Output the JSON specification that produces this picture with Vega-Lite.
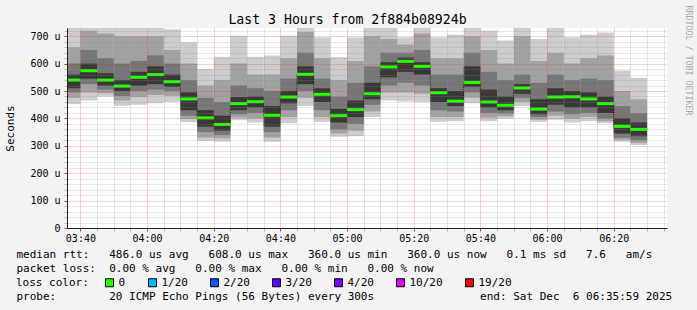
{
  "$schema": "https://vega.github.io/schema/vega-lite/v6.json",
  "width": 600,
  "height": 200,
  "autosize": {"type": "none"},
  "padding": {"left": 67, "top": 28, "right": 30, "bottom": 82},
  "background": "#f3f3f3",
  "view": {"fill": "#ffffff", "stroke": null},
  "title": {"text": "Last 3 Hours from 2f884b08924b", "font": "DejaVu Sans Mono", "fontSize": 13.2, "fontWeight": "normal", "color": "#000000", "anchor": "middle", "frame": "group", "dx": -19.5, "dy": 36, "baseline": "alphabetic", "offset": 4},
  "data": {"values": [
    {"start": 215, "end": 220, "mid": 217.5, "min": 453, "lo2": 475, "lo3": 495, "lo4": 510, "median": 540, "hi4": 560, "hi3": 600, "hi2": 660, "max": 760, "loss": "0"},
    {"start": 220, "end": 225, "mid": 222.5, "min": 465, "lo2": 495, "lo3": 525, "lo4": 545, "median": 574, "hi4": 600, "hi3": 650, "hi2": 720, "max": 760, "loss": "0"},
    {"start": 225, "end": 230, "mid": 227.5, "min": 480, "lo2": 492, "lo3": 505, "lo4": 520, "median": 540, "hi4": 565, "hi3": 620, "hi2": 710, "max": 740, "loss": "0"},
    {"start": 230, "end": 235, "mid": 232.5, "min": 446, "lo2": 465, "lo3": 482, "lo4": 500, "median": 518, "hi4": 540, "hi3": 600, "hi2": 700, "max": 740, "loss": "0"},
    {"start": 235, "end": 240, "mid": 237.5, "min": 450, "lo2": 478, "lo3": 500, "lo4": 520, "median": 550, "hi4": 570, "hi3": 610, "hi2": 700, "max": 740, "loss": "0"},
    {"start": 240, "end": 245, "mid": 242.5, "min": 455, "lo2": 485, "lo3": 505, "lo4": 525, "median": 560, "hi4": 590, "hi3": 630, "hi2": 700, "max": 735, "loss": "0"},
    {"start": 245, "end": 250, "mid": 247.5, "min": 460, "lo2": 482, "lo3": 500, "lo4": 515, "median": 534, "hi4": 560, "hi3": 600, "hi2": 650, "max": 725, "loss": "0"},
    {"start": 250, "end": 255, "mid": 252.5, "min": 386, "lo2": 398, "lo3": 410, "lo4": 430, "median": 471, "hi4": 495, "hi3": 540, "hi2": 600, "max": 678, "loss": "0"},
    {"start": 255, "end": 260, "mid": 257.5, "min": 318, "lo2": 330, "lo3": 350, "lo4": 370, "median": 402, "hi4": 430, "hi3": 475, "hi2": 520, "max": 580, "loss": "0"},
    {"start": 260, "end": 265, "mid": 262.5, "min": 316, "lo2": 328, "lo3": 340, "lo4": 355, "median": 378, "hi4": 410, "hi3": 460, "hi2": 540, "max": 625, "loss": "0"},
    {"start": 265, "end": 270, "mid": 267.5, "min": 393, "lo2": 403, "lo3": 415, "lo4": 430, "median": 454, "hi4": 478, "hi3": 520, "hi2": 600, "max": 702, "loss": "0"},
    {"start": 270, "end": 275, "mid": 272.5, "min": 385, "lo2": 400, "lo3": 420, "lo4": 440, "median": 461, "hi4": 480, "hi3": 510, "hi2": 560, "max": 625, "loss": "0"},
    {"start": 275, "end": 280, "mid": 277.5, "min": 315, "lo2": 330, "lo3": 350, "lo4": 370, "median": 411, "hi4": 445, "hi3": 500, "hi2": 560, "max": 630, "loss": "0"},
    {"start": 280, "end": 285, "mid": 282.5, "min": 382, "lo2": 405, "lo3": 430, "lo4": 455, "median": 478, "hi4": 500, "hi3": 545, "hi2": 620, "max": 702, "loss": "0"},
    {"start": 285, "end": 290, "mid": 287.5, "min": 445, "lo2": 475, "lo3": 500, "lo4": 525, "median": 561, "hi4": 590, "hi3": 640, "hi2": 715, "max": 740, "loss": "0"},
    {"start": 290, "end": 295, "mid": 292.5, "min": 388, "lo2": 405, "lo3": 430, "lo4": 460, "median": 488, "hi4": 510, "hi3": 545, "hi2": 620, "max": 696, "loss": "0"},
    {"start": 295, "end": 300, "mid": 297.5, "min": 333, "lo2": 345, "lo3": 360, "lo4": 385, "median": 410, "hi4": 435, "hi3": 480, "hi2": 540, "max": 623, "loss": "0"},
    {"start": 300, "end": 305, "mid": 302.5, "min": 335, "lo2": 355, "lo3": 380, "lo4": 405, "median": 432, "hi4": 465, "hi3": 530, "hi2": 610, "max": 695, "loss": "0"},
    {"start": 305, "end": 310, "mid": 307.5, "min": 405, "lo2": 425, "lo3": 450, "lo4": 470, "median": 490, "hi4": 530, "hi3": 590, "hi2": 700, "max": 740, "loss": "0"},
    {"start": 310, "end": 315, "mid": 312.5, "min": 465, "lo2": 495, "lo3": 520, "lo4": 550, "median": 588, "hi4": 605, "hi3": 640, "hi2": 690, "max": 735, "loss": "0"},
    {"start": 315, "end": 320, "mid": 317.5, "min": 462, "lo2": 495, "lo3": 530, "lo4": 570, "median": 608, "hi4": 622, "hi3": 640, "hi2": 670, "max": 696, "loss": "0"},
    {"start": 320, "end": 325, "mid": 322.5, "min": 460, "lo2": 490, "lo3": 520, "lo4": 560, "median": 590, "hi4": 605, "hi3": 650, "hi2": 710, "max": 735, "loss": "0"},
    {"start": 325, "end": 330, "mid": 327.5, "min": 388, "lo2": 405, "lo3": 430, "lo4": 460, "median": 494, "hi4": 510, "hi3": 560, "hi2": 620, "max": 696, "loss": "0"},
    {"start": 330, "end": 335, "mid": 332.5, "min": 390, "lo2": 405, "lo3": 425, "lo4": 445, "median": 463, "hi4": 500, "hi3": 560, "hi2": 620, "max": 705, "loss": "0"},
    {"start": 335, "end": 340, "mid": 337.5, "min": 455, "lo2": 475, "lo3": 495, "lo4": 515, "median": 531, "hi4": 590, "hi3": 640, "hi2": 700, "max": 735, "loss": "0"},
    {"start": 340, "end": 345, "mid": 342.5, "min": 390, "lo2": 403, "lo3": 420, "lo4": 440, "median": 460, "hi4": 505, "hi3": 570, "hi2": 650, "max": 720, "loss": "0"},
    {"start": 345, "end": 350, "mid": 347.5, "min": 400, "lo2": 408, "lo3": 418, "lo4": 430, "median": 448, "hi4": 480, "hi3": 540, "hi2": 600, "max": 684, "loss": "0"},
    {"start": 350, "end": 355, "mid": 352.5, "min": 445, "lo2": 460, "lo3": 475, "lo4": 490, "median": 511, "hi4": 525, "hi3": 560, "hi2": 700, "max": 735, "loss": "0"},
    {"start": 355, "end": 360, "mid": 357.5, "min": 388, "lo2": 395, "lo3": 405, "lo4": 415, "median": 434, "hi4": 470, "hi3": 530, "hi2": 610, "max": 690, "loss": "0"},
    {"start": 360, "end": 365, "mid": 362.5, "min": 395, "lo2": 410, "lo3": 425, "lo4": 450, "median": 478, "hi4": 510, "hi3": 560, "hi2": 640, "max": 735, "loss": "0"},
    {"start": 365, "end": 370, "mid": 367.5, "min": 385, "lo2": 400, "lo3": 415, "lo4": 440, "median": 479, "hi4": 500, "hi3": 540, "hi2": 600, "max": 696, "loss": "0"},
    {"start": 370, "end": 375, "mid": 372.5, "min": 390, "lo2": 405, "lo3": 420, "lo4": 440, "median": 471, "hi4": 495, "hi3": 545, "hi2": 620, "max": 705, "loss": "0"},
    {"start": 375, "end": 380, "mid": 377.5, "min": 382, "lo2": 390, "lo3": 400, "lo4": 420, "median": 454, "hi4": 480, "hi3": 540, "hi2": 630, "max": 714, "loss": "0"},
    {"start": 380, "end": 385, "mid": 382.5, "min": 315, "lo2": 322, "lo3": 330, "lo4": 345, "median": 371, "hi4": 400, "hi3": 445, "hi2": 500, "max": 575, "loss": "0"},
    {"start": 385, "end": 390, "mid": 387.5, "min": 303, "lo2": 310, "lo3": 320, "lo4": 335, "median": 360, "hi4": 385, "hi3": 420, "hi2": 470, "max": 548, "loss": "0"}
  ]},
  "encoding": {
    "x": {
      "field": "start", "type": "quantitative",
      "scale": {"domain": [215.9833, 395.9833], "nice": false, "zero": false},
      "axis": {
        "values": [220, 225, 230, 235, 240, 245, 250, 255, 260, 265, 270, 275, 280, 285, 290, 295, 300, 305, 310, 315, 320, 325, 330, 335, 340, 345, 350, 355, 360, 365, 370, 375, 380, 385, 390, 395],
        "grid": true,
        "gridColor": {"condition": {"test": "datum.value % 20 == 0", "value": "#de3030"}, "value": "#8f8f8f"},
        "gridDash": [1, 1],
        "gridOpacity": 0.45,
        "tickSize": 3,
        "tickColor": {"condition": {"test": "datum.value % 20 == 0", "value": "#de3030"}, "value": "#aaaaaa"},
        "labelExpr": "datum.value % 20 == 0 ? '0' + floor(datum.value / 60) + ':' + (datum.value % 60 < 10 ? '0' : '') + (datum.value % 60) : ''",
        "labelFont": "DejaVu Sans Mono", "labelFontSize": 10, "labelColor": "#000000",
        "labelBaseline": "alphabetic", "labelPadding": 10,
        "labelOverlap": false, "labelFlush": false,
        "domainColor": "#222222",
        "title": ["median rtt:\u00a0\u00a0\u00a0486.0 us avg\u00a0\u00a0\u00a0608.0 us max\u00a0\u00a0\u00a0360.0 us min\u00a0\u00a0\u00a0360.0 us now\u00a0\u00a0\u00a00.1 ms sd\u00a0\u00a0\u00a07.6\u00a0\u00a0\u00a0am/s", "packet loss:\u00a0\u00a00.00 % avg\u00a0\u00a0\u00a00.00 % max\u00a0\u00a0\u00a00.00 % min\u00a0\u00a0\u00a00.00 % now", "\u200b", "probe:\u00a0\u00a0\u00a0\u00a0\u00a0\u00a0\u00a0\u00a020 ICMP Echo Pings (56 Bytes) every 300s\u00a0\u00a0\u00a0\u00a0\u00a0\u00a0\u00a0\u00a0\u00a0\u00a0\u00a0\u00a0\u00a0\u00a0\u00a0\u00a0end: Sat Dec\u00a0\u00a06 06:35:59 2025"],
        "titleFont": "DejaVu Sans Mono", "titleFontSize": 11, "titleFontWeight": "normal", "titleColor": "#000000",
        "titleX": -51, "titleY": 29.7, "titleAlign": "left", "titleBaseline": "alphabetic", "titleLineHeight": 13.8, "titleAngle": 0,
        "zindex": 1
      }
    }
  },
  "layer": [
    {
      "mark": {"type": "rect", "color": "#cdcdcd", "clip": true},
      "encoding": {
        "x2": {"field": "end"},
        "y": {
          "field": "min", "type": "quantitative",
          "scale": {"domain": [0, 730], "nice": false},
          "axis": {
            "orient": "left",
            "values": [0, 20, 40, 60, 80, 100, 120, 140, 160, 180, 200, 220, 240, 260, 280, 300, 320, 340, 360, 380, 400, 420, 440, 460, 480, 500, 520, 540, 560, 580, 600, 620, 640, 660, 680, 700, 720],
            "grid": true,
            "gridColor": {"condition": {"test": "datum.value % 100 == 0", "value": "#de3030"}, "value": "#8f8f8f"},
            "gridDash": [1, 1],
            "gridOpacity": 0.45,
            "tickSize": 3,
            "tickColor": {"condition": {"test": "datum.value % 100 == 0", "value": "#de3030"}, "value": "#bbbbbb"},
            "labelExpr": "datum.value % 100 == 0 ? (datum.value == 0 ? '0\u00a0\u00a0' : datum.value + ' u') : ''",
            "labelFont": "DejaVu Sans Mono", "labelFontSize": 10, "labelColor": "#000000", "labelPadding": 4,
            "labelOverlap": false,
            "domainColor": "#222222",
            "title": "Seconds",
            "titleFont": "DejaVu Sans Mono", "titleFontSize": 11, "titleFontWeight": "normal", "titleColor": "#000000",
            "titleAngle": -90, "titleX": -57, "titleY": 100, "titleAlign": "center", "titleBaseline": "middle",
            "zindex": 1
          }
        },
        "y2": {"field": "max"}
      }
    },
    {
      "mark": {"type": "rect", "color": "#a2a2a2", "clip": true},
      "encoding": {
        "x2": {"field": "end"},
        "y": {
          "field": "lo2", "type": "quantitative",
          "axis": {"orient": "right", "title": "RRDTOOL / TOBI OETIKER", "labels": false, "ticks": false, "domain": false, "grid": false,
            "titleAngle": 90, "titleX": 20, "titleY": -23, "titleAlign": "left", "titleBaseline": "middle",
            "titleFont": "DejaVu Sans Mono", "titleFontSize": 8.3, "titleFontWeight": "normal", "titleColor": "#a8a8a8"}
        },
        "y2": {"field": "hi2"}
      }
    },
    {
      "mark": {"type": "rect", "color": "#767676", "clip": true},
      "encoding": {
        "x2": {"field": "end"},
        "y": {"field": "lo3", "type": "quantitative", "axis": null},
        "y2": {"field": "hi3"}
      }
    },
    {
      "mark": {"type": "rect", "color": "#383838", "clip": true},
      "encoding": {
        "x2": {"field": "end"},
        "y": {"field": "lo4", "type": "quantitative", "axis": null},
        "y2": {"field": "hi4"}
      }
    },
    {
      "mark": {"type": "line", "interpolate": "step-after", "color": "#000000", "strokeWidth": 1, "strokeDash": [1, 1], "clip": true},
      "encoding": {
        "y": {"field": "median", "type": "quantitative", "axis": null}
      }
    },
    {
      "mark": {"type": "tick", "orient": "horizontal", "thickness": 3, "size": 17, "opacity": 1, "clip": true},
      "encoding": {
        "x": {"field": "mid", "type": "quantitative"},
        "y": {"field": "median", "type": "quantitative", "axis": null},
        "color": {
          "field": "loss", "type": "nominal",
          "scale": {"domain": ["0", "1/20", "2/20", "3/20", "4/20", "10/20", "19/20"], "range": ["#26ff00", "#00b8ff", "#0059ff", "#5e00ff", "#7e00ff", "#dd00ff", "#ff0000"]},
          "legend": {
            "title": "loss color:", "orient": "none", "legendX": -51, "legendY": 249, "direction": "horizontal",
            "titleOrient": "left", "titleFont": "DejaVu Sans Mono", "titleFontSize": 11, "titleFontWeight": "normal", "titleColor": "#000000", "titlePadding": 15,
            "labelFont": "DejaVu Sans Mono", "labelFontSize": 11, "labelColor": "#000000", "labelOffset": 3.5, "columnPadding": 20,
            "symbolType": "square", "symbolSize": 64, "symbolStrokeColor": "#000000", "symbolStrokeWidth": 1, "symbolOpacity": 1, "padding": 0
          }
        }
      }
    },
    {
      "data": {"values": [{}]},
      "mark": {"type": "rule", "color": "#222222", "clip": false},
      "encoding": {
        "x": {"datum": 395.9833, "type": "quantitative"},
        "x2": {"datum": 397.5},
        "y": {"datum": 0, "type": "quantitative", "axis": null}
      }
    },
    {
      "data": {"values": [{}]},
      "mark": {"type": "rule", "color": "#222222", "clip": false},
      "encoding": {
        "x": {"datum": 215.9833, "type": "quantitative"},
        "y": {"datum": 730, "type": "quantitative", "axis": null},
        "y2": {"datum": 750}
      }
    },
    {
      "data": {"values": [{}]},
      "mark": {"type": "point", "shape": "triangle-right", "size": 30, "filled": true, "opacity": 1, "color": "#8b0000", "clip": false},
      "encoding": {
        "x": {"datum": 397.67, "type": "quantitative"},
        "y": {"datum": 0, "type": "quantitative", "axis": null}
      }
    },
    {
      "data": {"values": [{}]},
      "mark": {"type": "point", "shape": "triangle-up", "size": 30, "filled": true, "opacity": 1, "color": "#8b0000", "clip": false},
      "encoding": {
        "x": {"datum": 215.9833, "type": "quantitative"},
        "y": {"datum": 752, "type": "quantitative", "axis": null}
      }
    }
  ],
  "resolve": {"axis": {"y": "independent"}}
}
